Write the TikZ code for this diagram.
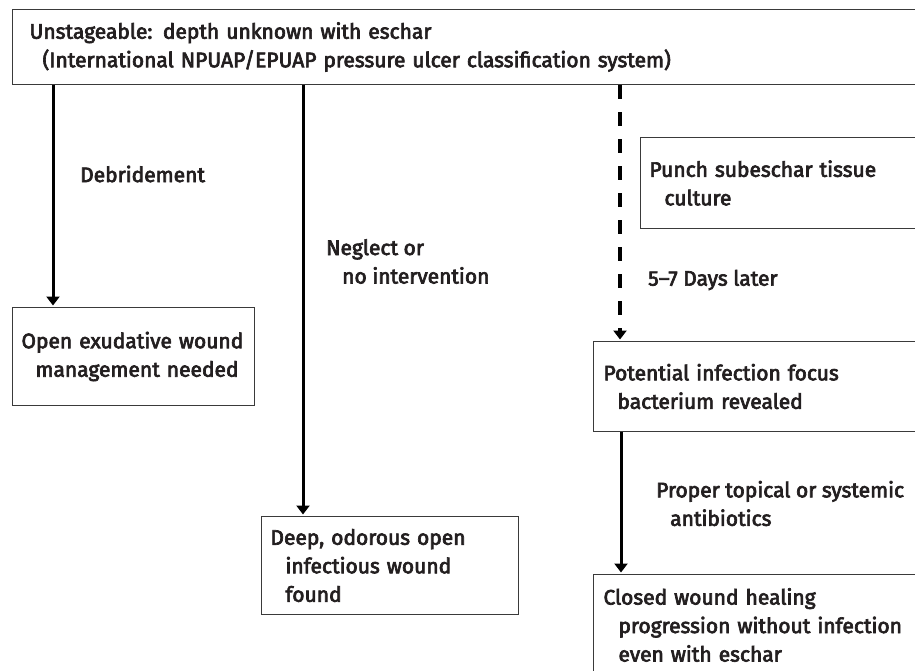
\documentclass[tikz,border=0pt]{standalone}
\usepackage{fontspec}
\setmainfont{Fira Sans}[BoldFont={Fira Sans}, BoldFeatures={FakeBold=3.2}]
\usetikzlibrary{arrows.meta,calc}
\definecolor{txt}{HTML}{231F20}
\definecolor{boxgray}{HTML}{3A3A3A}
\begin{document}
\begin{tikzpicture}[x=1pt,y=-1pt,
  font=\fontsize{21}{28.5}\selectfont\bfseries,
  box/.style={draw=boxgray,line width=1pt,anchor=north west,align=left,inner ysep=0pt,text=txt},
  lab/.style={anchor=west,align=left,inner sep=0pt,text=txt},
  arr/.style={line width=3pt,shorten >=1.5pt,-{Triangle[width=13pt,length=9pt]}},
  dasharr/.style={arr,line width=3.5pt,dash pattern=on 14pt off 13pt},
]
\useasboundingbox[fill=white] (0,0) rectangle (915,670);
% boxes
\node[box,inner xsep=17pt,text width=874pt,minimum height=75pt] (top) at (12,9)
  {Unstageable: depth unknown with eschar\\\hspace*{13pt}(International NPUAP/EPUAP pressure ulcer classification system)};
\node[box,inner xsep=9pt,text width=224pt,minimum height=98pt] (openb) at (12,307)
  {Open exudative wound\\\hspace*{14pt}management needed};
\node[box,inner xsep=9pt,text width=262pt,minimum height=91pt] (punch) at (640,137)
  {Punch subeschar tissue\\\hspace*{15pt}culture};
\node[box,inner xsep=10pt,text width=310pt,minimum height=90pt] (pot) at (593,341)
  {Potential infection focus\\\hspace*{14pt}bacterium revealed};
\node[box,inner xsep=9pt,text width=239pt,minimum height=98pt] (deep) at (261,516)
  {Deep, odorous open\\\hspace*{15pt}infectious wound\\\hspace*{15pt}found};
\node[box,inner xsep=10pt,text width=310pt,minimum height=101pt] (closed) at (593,574)
  {Closed wound healing\\\hspace*{15pt}progression without infection\\\hspace*{15pt}even with eschar};
% connector end points
\coordinate (a1) at ($(openb.north west)+(41,0)$);
\coordinate (a2) at ($(deep.north west)+(42,0)$);
\coordinate (a3) at ($(pot.north west)+(27,0)$);
\coordinate (a4) at ($(closed.north west)+(28,0)$);
% connectors
\draw[arr] (top.south -| a1) -- (a1);
\draw[arr] (top.south -| a2) -- (a2);
\draw[dasharr] (top.south -| a3) -- (a3);
\draw[arr] (pot.south -| a4) -- (a4);
% labels
\node[lab] (deb) at (80,174) {Debridement};
\node[lab] (neg) at (326,261.5) {Neglect or\\\hspace*{16pt}no intervention};
\node[lab] (days) at (648,280) {5–7 Days later};
\node[lab] (prop) at (656,503.5) {Proper topical or systemic\\\hspace*{14pt}antibiotics};
\end{tikzpicture}
\end{document}
